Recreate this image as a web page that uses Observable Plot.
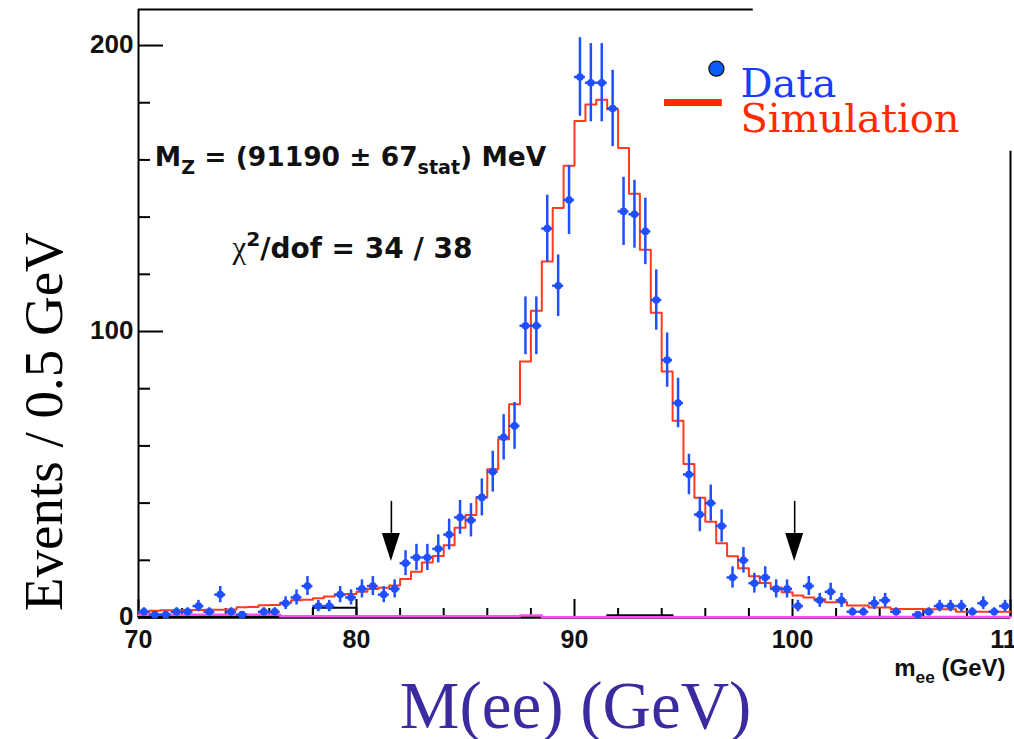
<!DOCTYPE html>
<html>
<head>
<meta charset="utf-8">
<script src="https://cdn.jsdelivr.net/npm/d3@7"></script>
<script src="https://cdn.jsdelivr.net/npm/@observablehq/plot@0.6"></script>
<style>
  html, body { margin: 0; padding: 0; background: #fff; }
  #chart svg { display: block; }
</style>
</head>
<body>
<div id="chart"></div>
<script>
// Z -> ee invariant mass, 0.5 GeV bins from 70 to 110 GeV
const binStart = 70;
const binWidth = 0.5;

// observed events per bin
const dataCounts = [
  2, 1, 1, 2, 2, 4, 2, 8, 2, 1,
  0, 2, 2, 5, 7, 11, 4, 4, 8, 7,
  10, 11, 8, 10, 19, 21, 21, 24, 29, 35,
  34, 42, 51, 63, 67, 102, 102, 136, 116, 146,
  189, 187, 187, 178, 142, 141, 135, 111, 90, 75,
  50, 36, 40, 32, 14, 20, 12, 14, 10, 10,
  4, 11, 6, 9, 6, 2, 2, 5, 6, 2,
  0, 1, 2, 4, 4, 4, 2, 5, 2, 4
];

// simulated expectation per bin
const simCounts = [
  1.8, 2.4, 2.5, 2.5, 2.6, 2.6, 2.7, 2.7, 2.8, 3.6,
  3.7, 4.3, 4.4, 5.2, 6.0, 6.2, 6.7, 7.3, 8.0, 8.2,
  9.0, 10.0, 10.4, 11.2, 13.5, 16.0, 19.2, 21.5, 25.3, 31.4,
  35.8, 42.0, 51.8, 62.3, 74.6, 89.5, 107.3, 124.5, 143.2, 158.0,
  173.6, 179.4, 181.0, 177.7, 164.2, 148.2, 128.6, 106.6, 86.0, 68.8,
  53.7, 41.9, 33.5, 26.0, 21.4, 17.2, 14.4, 12.1, 10.5, 8.8,
  7.7, 7.0, 6.4, 5.3, 5.3, 4.2, 4.2, 3.5, 3.5, 3.0,
  3.0, 3.0, 2.9, 2.9, 2.9, 2.0, 2.0, 2.0, 2.0, 2.0
];

// small background components (variable-width bins)
const bgEdges = [70, 76.5, 87.5, 88.5, 102, 110];
const bgCounts = [1.0, 0.45, 0.7, 0.05, 0.15];
const otherEdges = [70, 78, 80, 91.5, 94.5, 102];
const otherCounts = [0.2, 3.4, 0.2, 0.8, 0.2];

// fit window markers (GeV)
const windowEdges = [81.6, 100.1];

// axis ticks
const xTickLabels = [70, 80, 90, 100, 110];
const yTickLabels = [0, 100, 200];

const xMax = 110, yMax = 212.6;
const pxPerGeV = 872 / (xMax - binStart);
const pxPerEvent = 608 / yMax;

// step outline through bin edges
function stepPoints(edges, values) {
  const pts = values.map((v, i) => ({x: edges[i], y: v}));
  pts.push({x: edges[edges.length - 1], y: values[values.length - 1]});
  return pts;
}
const simEdges = simCounts.map((_, i) => binStart + i * binWidth).concat([xMax]);
const simLine = stepPoints(simEdges, simCounts);
const bgLine = stepPoints(bgEdges, bgCounts);
const otherLine = stepPoints(otherEdges, otherCounts);

const data = dataCounts
  .map((n, i) => ({
    lo: binStart + i * binWidth,
    hi: binStart + (i + 1) * binWidth,
    x: binStart + (i + 0.5) * binWidth,
    n,
    err: Math.sqrt(n)
  }))
  .filter(d => d.n > 0);

// arrow heads as filled triangles
const headHalf = 9 / pxPerGeV;
const arrowTop = 40.6, arrowBase = 29.4, arrowTip = 19.6;
const heads = windowEdges.flatMap(a => [
  {a, x: a - headHalf, y1: arrowBase, y2: arrowBase},
  {a, x: a, y1: arrowTip, y2: arrowBase},
  {a, x: a + headHalf, y1: arrowBase, y2: arrowBase}
]);

const xMinor = d3.range(72, 110, 2).filter(v => v % 10 !== 0);
const yMinor = d3.range(20, 212, 20).filter(v => v % 100 !== 0);

const sans = "Liberation Sans, Arial, Helvetica, sans-serif";
const serif = "Liberation Serif, Times New Roman, serif";
const blue = "#1f4fff";
const red = "#ff3b1f";

const svg = Plot.plot({
  width: 1014,
  height: 739,
  marginLeft: 138,
  marginRight: 4,
  marginTop: 9,
  marginBottom: 122,
  x: {domain: [binStart, xMax], axis: null},
  y: {domain: [0, yMax], axis: null},
  style: {background: "#fff", overflow: "visible"},
  marks: [
    // frame
    Plot.ruleX([binStart], {y1: 0, y2: yMax, stroke: "black", strokeWidth: 2}),
    Plot.ruleY([yMax], {x1: binStart, x2: 98.2, stroke: "black", strokeWidth: 2}),
    Plot.ruleX([xMax], {y1: 0, y2: 163, stroke: "black", strokeWidth: 2}),

    // x ticks (inward)
    Plot.ruleX(xTickLabels, {x: d => d, y1: 0, y2: 18 / pxPerEvent, stroke: "black", strokeWidth: 2}),
    Plot.ruleX(xMinor, {x: d => d, y1: 0, y2: 9 / pxPerEvent, stroke: "black", strokeWidth: 2}),
    // y ticks (inward)
    Plot.ruleY(yTickLabels, {y: d => d, x1: binStart, x2: binStart + 25 / pxPerGeV, stroke: "black", strokeWidth: 2}),
    Plot.ruleY(yMinor, {y: d => d, x1: binStart, x2: binStart + 12 / pxPerGeV, stroke: "black", strokeWidth: 2}),

    Plot.ruleY([0], {x1: binStart, x2: xMax, stroke: "black", strokeWidth: 2.5}),

    // background components
    Plot.line(otherLine, {x: "x", y: "y", curve: "step-after", stroke: "black", strokeWidth: 2}),
    Plot.line(bgLine, {x: "x", y: "y", curve: "step-after", stroke: "#ff4df0", strokeWidth: 2.5}),

    // simulation
    Plot.line(simLine, {x: "x", y: "y", curve: "step-after", stroke: red, strokeWidth: 2}),

    // data with sqrt(N) errors
    Plot.ruleX(data, {x: "x", y1: d => d.n - d.err, y2: d => d.n + d.err, stroke: blue, strokeWidth: 2.5}),
    Plot.ruleY(data, {y: "n", x1: "lo", x2: "hi", stroke: blue, strokeWidth: 2.5}),
    Plot.dot(data, {x: "x", y: "n", r: 3.8, fill: blue}),

    // fit window arrows
    Plot.ruleX(windowEdges, {x: d => d, y1: arrowBase, y2: arrowTop, stroke: "black", strokeWidth: 1.6}),
    Plot.areaY(heads, {x: "x", y1: "y1", y2: "y2", z: "a", fill: "black", curve: "linear"}),

    // tick labels
    Plot.text(xTickLabels, {x: d => d, y: 0, text: d => String(d), dy: 30, lineAnchor: "bottom",
      fontSize: 25, fontWeight: "bold", fontFamily: sans, fill: "#111"}),
    Plot.text(yTickLabels, {x: binStart, y: d => d, text: d => String(d), dx: -5, dy: -1, textAnchor: "end",
      lineAnchor: "middle", fontSize: 26, fontWeight: "bold", fontFamily: sans, fill: "#111"}),

    // axis titles
    Plot.text(["m_{ee} (GeV)"], {x: xMax, y: 0, dx: -5, dy: 58, textAnchor: "end", lineAnchor: "bottom",
      fontSize: 24, fontWeight: "bold", fontFamily: sans, fill: "#111"}),
    Plot.text(["Events / 0.5 GeV"], {x: 66.47, y: 68.5, rotate: -90, textAnchor: "middle", lineAnchor: "bottom",
      fontSize: 55, fontFamily: serif, fill: "black"}),
    Plot.text(["M(ee) (GeV)"], {x: 90.05, y: -38.6, textAnchor: "middle", lineAnchor: "bottom",
      fontSize: 67, fontFamily: serif, fill: "#3a2ba0"}),

    // fit results
    Plot.text(["M_{Z} = (91190 ± 67_{stat}) MeV"], {x: 70.75, y: 158.0, textAnchor: "start", lineAnchor: "bottom",
      fontSize: 26.5, fontWeight: "bold", fontFamily: "DejaVu Sans, sans-serif", fill: "#111"}),
    Plot.text(["χ^{2}/dof = 34 / 38"], {x: 74.31, y: 125.8, textAnchor: "start", lineAnchor: "bottom",
      fontSize: 28, fontWeight: "bold", fontFamily: "DejaVu Sans, sans-serif", fill: "#111"}),

    // legend
    Plot.ruleY([180.1], {x1: 94.13, x2: 96.78, stroke: "#ff2a00", strokeWidth: 7}),
    Plot.dot([{x: 96.51, y: 191.9}], {x: "x", y: "y", r: 7.5, fill: "#0a5cff", stroke: "#111", strokeWidth: 1.3}),
    Plot.text(["Data"], {x: 97.61, y: 181.9, textAnchor: "start", lineAnchor: "bottom",
      fontSize: 40, fontFamily: "DejaVu Serif, serif", fill: "#1a3cff"}),
    Plot.text(["Simulation"], {x: 97.61, y: 169.7, textAnchor: "start", lineAnchor: "bottom",
      fontSize: 40, fontFamily: "DejaVu Serif, serif", fill: "#ff2a00"})
  ]
});

document.getElementById("chart").appendChild(svg);

// turn _{..} / ^{..} markup into sub/superscript tspans; χ set in a serif face
(function richText(root) {
  const NS = "http://www.w3.org/2000/svg";
  root.querySelectorAll("text").forEach(t => {
    const s = t.textContent;
    if (!/[_^]\{|χ/.test(s)) return;
    const fs = parseFloat(getComputedStyle(t).fontSize) || 20;
    t.textContent = "";
    let shift = 0;
    for (const m of s.matchAll(/([_^])\{([^}]*)\}|χ|[^_^χ]+/g)) {
      const ts = document.createElementNS(NS, "tspan");
      let target = 0;
      if (m[1]) {
        ts.textContent = m[2];
        ts.setAttribute("font-size", (fs * 0.72).toFixed(1));
        target = m[1] === "_" ? 0.3 * fs : -0.42 * fs;
      } else if (m[0] === "χ") {
        ts.textContent = "χ";
        ts.setAttribute("font-family", "Liberation Serif, serif");
        ts.setAttribute("font-weight", "normal");
        ts.setAttribute("font-size", (fs * 1.1).toFixed(1));
      } else {
        ts.textContent = m[0];
      }
      const dy = target - shift;
      if (dy) ts.setAttribute("dy", dy.toFixed(1));
      shift = target;
      t.appendChild(ts);
    }
  });
})(svg);
</script>
</body>
</html>
